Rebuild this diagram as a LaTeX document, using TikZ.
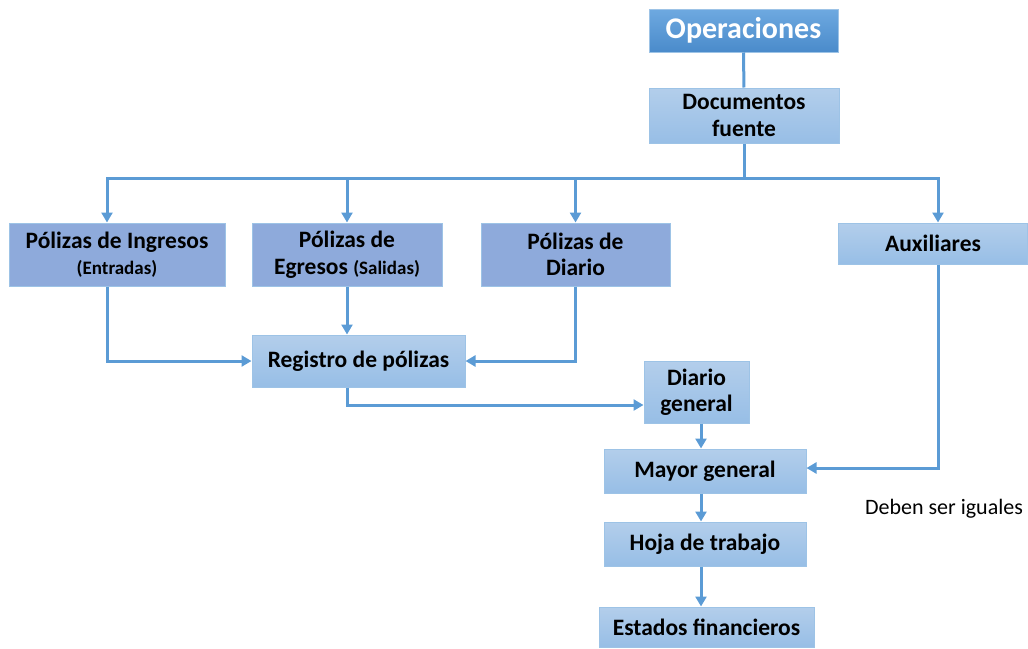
\documentclass[tikz,border=0pt]{standalone}
\usepackage{fontspec}
\setmainfont{Carlito}
\usetikzlibrary{arrows.meta,positioning}
\definecolor{lineblue}{HTML}{5B9BD5}
\definecolor{lighttop}{HTML}{B3CEEB}
\definecolor{lightbot}{HTML}{97BEE6}
\definecolor{lightborder}{HTML}{9DC3E6}
\definecolor{polfill}{HTML}{8EAADB}
\definecolor{optop}{HTML}{6EA9E0}
\definecolor{opbot}{HTML}{4A8BCB}
\tikzset{
  base/.style={rectangle, inner sep=0pt, align=center, line width=1pt, font=\bfseries\fontsize{23.5}{26.5}\selectfont},
  lbox/.style={base, draw=lightborder, top color=lighttop, bottom color=lightbot},
  pbox/.style={base, draw=lightborder, fill=polfill},
  obox/.style={base, draw=lightborder, top color=optop, bottom color=opbot, text=white, font=\bfseries\fontsize{30}{34}\selectfont},
  conn/.style={draw=lineblue, line width=3pt},
  arr/.style={conn, -{Triangle[width=11pt,length=10pt]}}
}
\begin{document}
\begin{tikzpicture}[x=1pt,y=-1pt]
\useasboundingbox (0,0) rectangle (1028,648);
% boxes
\node[obox, minimum width=189pt, minimum height=43pt] (op) at (743.5,30.5) {Operaciones};
\node[lbox, minimum width=190pt, minimum height=55pt] (doc) at (744,115.5) {Documentos\\fuente};
\node[pbox, minimum width=216pt, minimum height=63pt] (ing) at (117,254.5) {Pólizas de Ingresos\\{\fontsize{19}{24}\selectfont (Entradas)}};
\node[pbox, minimum width=190pt, minimum height=63pt] (egr) at (347,254.5) {Pólizas de\\Egresos {\fontsize{19}{24}\selectfont (Salidas)}};
\node[pbox, minimum width=189pt, minimum height=63pt] (dia) at (575.5,254.5) {Pólizas de\\Diario};
\node[lbox, minimum width=189pt, minimum height=41pt] (aux) at (933,243.5) {Auxiliares};
\node[lbox, minimum width=213pt, minimum height=52pt] (reg) at (358.5,361) {Registro de pólizas};
\node[lbox, minimum width=105pt, minimum height=62pt] (dg) at (696.5,392) {Diario\\general};
\node[lbox, minimum width=202pt, minimum height=44pt] (mg) at (705,471) {Mayor general};
\node[lbox, minimum width=202pt, minimum height=44pt] (hoja) at (705,544) {Hoja de trabajo};
\node[lbox, minimum width=215pt, minimum height=40pt] (ef) at (706.5,627) {Estados financieros};
\node[font=\fontsize{22}{26}\selectfont, anchor=center] (note) at (944,509) {Deben ser iguales};
% helper coordinates
\coordinate (bus) at (744,178);
\coordinate (col) at (701,0);
\coordinate (ingcol) at (107,0);
\coordinate (auxcol) at (938,0);
\coordinate (regout) at (347,405);
% connectors
\draw[conn] (op) -- (doc);
\draw[conn] (doc) -- (bus);
\draw[arr] (bus) -| (ing.north -| ingcol);
\draw[arr] (bus) -| (egr.north);
\draw[arr] (bus) -| (dia.north);
\draw[arr] (bus) -| (aux.north -| auxcol);
\draw[arr] (ing.south -| ingcol) |- (reg.west);
\draw[arr] (egr.south) -- (egr.south |- reg.north);
\draw[arr] (dia.south) |- (reg.east);
\draw[arr] (reg.south -| regout) |- (dg.west |- regout);
\draw[arr] (dg.south -| col) -- (mg.north -| col);
\draw[arr] (aux.south -| auxcol) |- ([yshift=3pt]mg.east);
\draw[arr] (mg.south -| col) -- (hoja.north -| col);
\draw[arr] (hoja.south -| col) -- (ef.north -| col);
\end{tikzpicture}
\end{document}
